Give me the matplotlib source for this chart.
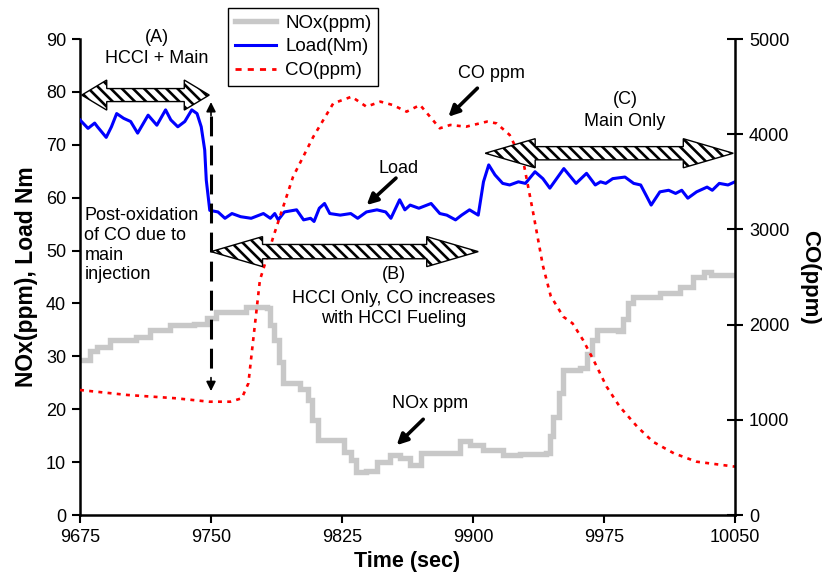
import matplotlib
matplotlib.use("Agg")
import matplotlib.pyplot as plt
from matplotlib.patches import Polygon
from matplotlib.lines import Line2D

plt.rcParams['font.family'] = ['Liberation Sans', 'DejaVu Sans']
plt.rcParams['hatch.linewidth'] = 1.9

# ---------------- data ----------------
load_t = [9675, 9679.6, 9683.4, 9685, 9690, 9693, 9696, 9700, 9704, 9708, 9714, 9719, 9724,
          9727, 9731, 9735, 9739, 9742, 9744.4, 9746.4, 9747.3, 9749.3, 9754, 9758, 9762,
          9767, 9773, 9780, 9784, 9786.5, 9788.5, 9792, 9799, 9803, 9807, 9809, 9812,
          9815, 9818, 9824, 9830, 9834, 9839, 9845, 9850, 9853, 9858, 9861, 9864, 9869,
          9876, 9881, 9885, 9890, 9893.5, 9898, 9903, 9906, 9909, 9912.6, 9917, 9921,
          9926, 9930, 9935.5, 9940, 9944, 9952, 9959, 9965, 9970, 9973, 9976, 9980, 9987,
          9992, 9996, 9999.5, 10002, 10007, 10012, 10016, 10019.5, 10023, 10028, 10034,
          10037, 10041, 10046, 10050]
load_v = [74.7, 73.1, 74.1, 73.4, 71.4, 73.4, 75.9, 75.0, 74.4, 72.2, 75.6, 73.7, 76.6,
          74.7, 73.4, 74.4, 76.6, 75.9, 73.4, 69.0, 63.3, 57.6, 57.3, 56.1, 57.0,
          56.4, 56.1, 57.0, 56.1, 57.0, 55.8, 57.3, 57.7, 55.8, 56.1, 55.5, 58.0,
          58.9, 57.0, 56.7, 57.0, 56.1, 57.3, 57.7, 57.3, 56.1, 59.6, 57.7, 58.6, 58.0,
          58.9, 57.0, 56.7, 55.8, 56.7, 57.7, 56.7, 63.0, 66.2, 64.3, 62.7, 62.4,
          63.0, 62.7, 64.9, 63.6, 61.8, 65.5, 62.7, 64.6, 62.4, 63.0, 62.7, 63.6, 63.9,
          62.7, 62.4, 60.2, 58.6, 61.1, 61.4, 60.8, 61.4, 59.9, 61.1, 62.0,
          61.4, 62.7, 62.4, 63.0]

nox_t = [9675, 9681, 9684.5, 9692, 9707, 9715, 9726.5, 9740, 9747.5, 9753, 9770, 9782,
         9784, 9786, 9789, 9791, 9801, 9805.7, 9808, 9811, 9823, 9826, 9830, 9833, 9839,
         9845, 9852.5, 9858, 9864, 9870, 9883, 9892.6, 9898, 9906, 9917, 9927, 9942,
         9944, 9946, 9949, 9951.7, 9961, 9965, 9968, 9970.8, 9983, 9986, 9989, 9991.8,
         10001, 10007, 10018.5, 10026, 10032, 10036, 10050]
nox_v = [29.3, 31.0, 31.8, 33.1, 33.7, 35.0, 35.9, 36.2, 37.2, 38.4, 39.4, 39.1,
         36.0, 33.1, 29.0, 24.9, 23.9, 21.7, 18.0, 14.2, 14.2, 12.0, 10.4, 8.2, 8.3,
         10.1, 11.3, 10.7, 9.5, 11.7, 11.7, 13.9, 13.2, 12.3, 11.3, 11.5, 11.7,
         15.0, 18.6, 23.0, 27.4, 27.7, 30.5, 33.0, 35.0, 34.7, 37.0, 40.0, 41.3,
         41.3, 41.9, 43.2, 45.0, 46.0, 45.3, 45.4]

co_t = [9675, 9702, 9730, 9749, 9761, 9767.6, 9771.4, 9773.3, 9778, 9781, 9785.7, 9797,
        9808.6, 9820, 9830.5, 9839, 9847, 9854, 9862, 9869.7, 9881, 9887, 9896, 9908,
        9913.5, 9921, 9929, 9934.5, 9940, 9944.5, 9951.7, 9957, 9963, 9969, 9976.5,
        9984, 9994, 10003, 10015, 10028, 10050]
co_v = [1313, 1261, 1226, 1190, 1190, 1226, 1383, 1698, 2468, 2644, 2924, 3554,
        3974, 4324, 4394, 4289, 4342, 4307, 4237, 4307, 4062, 4097, 4079, 4132,
        4114, 3992, 3694, 3169, 2620, 2300, 2083, 2013, 1838, 1628, 1348,
        1138, 928, 770, 648, 560, 508]

x_ticks = [9675, 9750, 9825, 9900, 9975, 10050]
left_ticks = [0, 10, 20, 30, 40, 50, 60, 70, 80, 90]
right_ticks = [0, 1000, 2000, 3000, 4000, 5000]

# ---------------- figure ----------------
fig = plt.figure(figsize=(8.24, 5.77), dpi=100)
ax = fig.add_axes([80/824, 1-515/577, 655/824, 476/577])
ax2 = ax.twinx()

nox_line, = ax.plot(nox_t, nox_v, color='#c8c8c8', lw=3.9, drawstyle='steps-post',
                    solid_joinstyle='miter', zorder=2)
load_line, = ax.plot(load_t, load_v, color='#0000ff', lw=2.2, zorder=3)
co_line, = ax2.plot(co_t, co_v, color='#ff0000', lw=1.9, linestyle=(0, (1.5, 2.0)), zorder=2)

ax.set_xlim(9675, 10050)
ax.set_ylim(0, 90)
ax2.set_ylim(0, 5000)
ax.set_xticks(x_ticks)
ax.set_yticks(left_ticks)
ax2.set_yticks(right_ticks)

for a in (ax, ax2):
    a.spines['top'].set_visible(False)
    for s in a.spines.values():
        s.set_linewidth(1.8)
ax.spines['right'].set_visible(False)
ax2.spines['left'].set_visible(False)
ax2.spines['bottom'].set_visible(False)

ax.tick_params(axis='both', direction='out', length=6, width=1.5, labelsize=13, pad=4)
ax2.tick_params(axis='y', direction='inout', length=12, width=1.5, labelsize=13, pad=4)

ax.set_xlabel('Time (sec)', fontsize=15.5, fontweight='bold', labelpad=4)
ax.set_ylabel('NOx(ppm), Load Nm', fontsize=16.5, fontweight='bold', labelpad=6)
ax2.set_ylabel('CO(ppm)', fontsize=16, fontweight='bold', rotation=270, labelpad=22)

# ---------------- hatched double arrows ----------------
def double_arrow(x0, x1, yc, head_len, body_half, head_half):
    pts = [(x0, yc), (x0 + head_len, yc + head_half), (x0 + head_len, yc + body_half),
           (x1 - head_len, yc + body_half), (x1 - head_len, yc + head_half), (x1, yc),
           (x1 - head_len, yc - head_half), (x1 - head_len, yc - body_half),
           (x0 + head_len, yc - body_half), (x0 + head_len, yc - head_half)]
    p = Polygon(pts, closed=True, facecolor='white', edgecolor='black', lw=1.0,
                hatch='\\\\\\', transform=ax.transData, zorder=5)
    ax2.add_patch(p)

double_arrow(9676, 9749, 79.4, 14.3, 1.23, 2.84)
double_arrow(9750, 9903, 49.8, 29.5, 1.35, 2.84)
double_arrow(9907, 10049, 68.4, 28.6, 1.25, 2.75)

# ---------------- vertical dashed double arrow ----------------
ax2.plot([9750, 9750], [75.5, 26.0], color='black', lw=2.2, linestyle=(0, (6.5, 3.0)),
         transform=ax.transData, zorder=6)
ax2.annotate('', xy=(9750, 78.6), xytext=(9750, 75.0), xycoords=ax.transData,
             textcoords=ax.transData,
             arrowprops=dict(arrowstyle='-|>', color='black', lw=1.2, mutation_scale=14))
ax2.annotate('', xy=(9750, 22.9), xytext=(9750, 26.5), xycoords=ax.transData,
             textcoords=ax.transData,
             arrowprops=dict(arrowstyle='-|>', color='black', lw=1.2, mutation_scale=14))

# ---------------- annotations ----------------
fs = 13
ax.text(9718.9, 90.3, '(A)', ha='center', va='center', fontsize=fs)
ax.text(9718.9, 86.3, 'HCCI + Main', ha='center', va='center', fontsize=fs)
ax.text(9677.5, 51.0, 'Post-oxidation\nof CO due to\nmain\ninjection', ha='left',
        va='center', fontsize=fs, linespacing=1.2)
ax.text(9987.0, 78.5, '(C)', ha='center', va='center', fontsize=fs)
ax.text(9987.0, 74.4, 'Main Only', ha='center', va='center', fontsize=fs)
ax.text(9854.5, 45.4, '(B)', ha='center', va='center', fontsize=fs)
ax.text(9854.5, 39.0, 'HCCI Only, CO increases\nwith HCCI Fueling', ha='center',
        va='center', fontsize=fs, linespacing=1.2)

ax.text(9857.2, 65.5, 'Load', ha='center', va='center', fontsize=fs)
ax.text(9910.7, 83.5, 'CO ppm', ha='center', va='center', fontsize=fs)
ax.text(9875.4, 21.1, 'NOx ppm', ha='center', va='center', fontsize=fs)

arrow_kw = dict(arrowstyle='-|>', color='black', lw=2.6, mutation_scale=16,
                shrinkA=0, shrinkB=0)
ax.annotate('', xy=(9839.1, 58.6), xytext=(9855.9, 63.7), arrowprops=arrow_kw)
ax.annotate('', xy=(9885.9, 75.3), xytext=(9902.5, 80.7), arrowprops=arrow_kw)
ax.annotate('', xy=(9856.3, 13.2), xytext=(9871.5, 18.1), arrowprops=arrow_kw)

# ---------------- legend ----------------
handles = [Line2D([], [], color='#c8c8c8', lw=3.9),
           Line2D([], [], color='#0000ff', lw=2.2),
           Line2D([], [], color='#ff0000', lw=2.0, linestyle=(0, (2.2, 2.2)))]
leg = fig.legend(handles, ['NOx(ppm)', 'Load(Nm)', 'CO(ppm)'], loc='upper left',
                 bbox_to_anchor=(228/824, 1-8/577), fontsize=13.5, frameon=True,
                 fancybox=False, edgecolor='black', framealpha=1, borderpad=0.35,
                 labelspacing=0.35, handlelength=2.2, handletextpad=0.5,
                 borderaxespad=0)
leg.get_frame().set_linewidth(1.0)

fig.savefig('out.png', dpi=100)
